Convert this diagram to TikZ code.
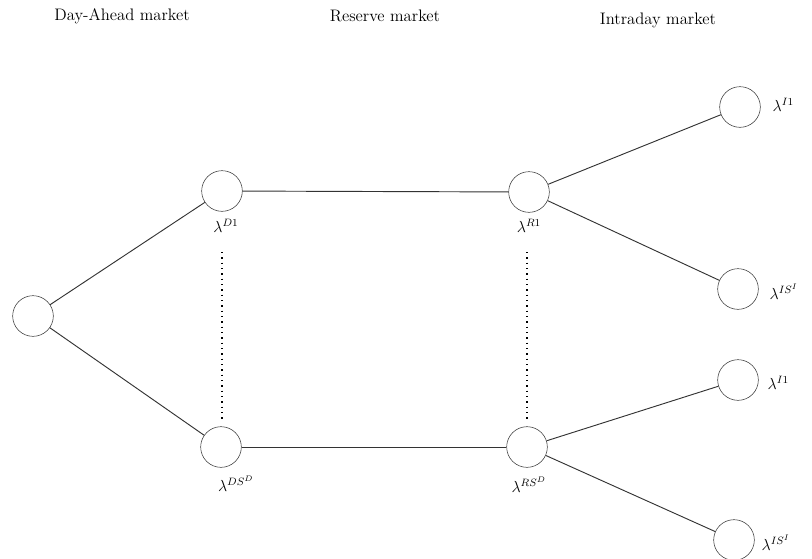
\documentclass[tikz,border=0pt]{standalone}
\usetikzlibrary{positioning}

\begin{document}
\begin{tikzpicture}[
  x=0.75pt, y=-0.75pt,
  state/.style={draw=black!80, circle, minimum size=30.5pt, inner sep=0pt},
  lbl/.style={inner sep=1pt, font=\large},
  title/.style={font=\fontsize{12.5}{15}\selectfont},
  edge/.style={draw=black!80, line width=0.7pt},
  gap/.style={draw=black, line width=1pt, dash pattern=on 1pt off 3pt}
]
\useasboundingbox (0,0) rectangle (812,558);

% market titles
\node[title] (tda) at (122,16) {Day-Ahead market};
\node[title] (trs) at (385,16) {Reserve market};
\node[title] (tid) at (658,20) {Intraday market};

% nodes of the tree
\node[state] (root) at (33,316) {};
\node[state] (d1) at (222,191) {};
\node[state] (ds) at (221,447) {};
\node[state] (r1) at (529,192) {};
\node[state] (rs) at (527,447) {};
\node[state] (i1a) at (740,107) {};
\node[state] (isa) at (738,289) {};
\node[state] (i1b) at (738,380) {};
\node[state] (isb) at (734,540) {};

% labels
\node[lbl] (ld1) at (226,226) {$\lambda^{D1}$};
\node[lbl] (lds) at (236,484) {$\lambda^{DS^D}$};
\node[lbl] (lr1) at (529,226) {$\lambda^{R1}$};
\node[lbl] (lrs) at (529,485) {$\lambda^{RS^D}$};
\node[lbl, anchor=west] (li1a) at (771,105) {$\lambda^{I1}$};
\node[lbl, anchor=west] (lisa) at (768,292) {$\lambda^{IS^I}$};
\node[lbl, anchor=west] (li1b) at (766,383) {$\lambda^{I1}$};
\node[lbl, anchor=west] (lisb) at (760,543) {$\lambda^{IS^I}$};

% connectors
\draw[edge] (root) -- (d1);
\draw[edge] (root) -- (ds);
\draw[edge] (d1) -- (r1);
\draw[edge] (ds) -- (rs);
\draw[edge] (r1) -- (i1a);
\draw[edge] (r1) -- (isa);
\draw[edge] (rs) -- (i1b);
\draw[edge] (rs) -- (isb);

% dots between scenarios
\coordinate (d1top) at (222,252);
\coordinate (d1bot) at (222,420);
\coordinate (r1top) at (527,252);
\coordinate (r1bot) at (527,420);
\draw[gap] (d1top) -- (d1bot);
\draw[gap] (r1top) -- (r1bot);

\end{tikzpicture}
\end{document}
